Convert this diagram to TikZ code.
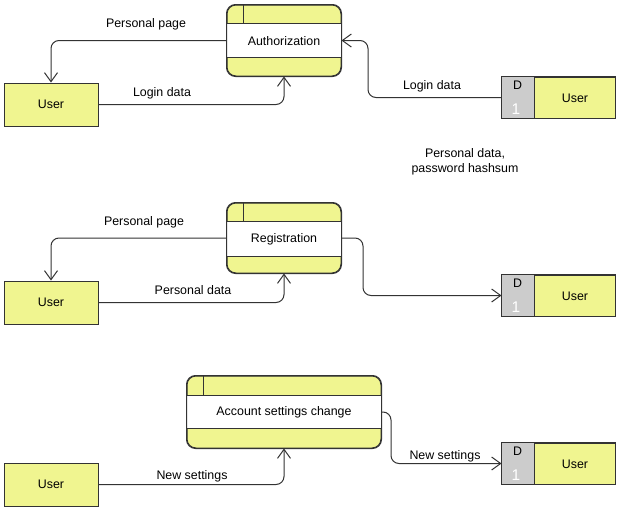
\documentclass[tikz,border=0pt]{standalone}
\usepackage{fontspec}
\setmainfont{Liberation Sans}
\usetikzlibrary{arrows.meta,calc}
\definecolor{ylw}{HTML}{F0F590}
\definecolor{gry}{HTML}{CCCCCC}
\definecolor{bdr}{HTML}{333333}
\begin{document}
\begin{tikzpicture}[x=1pt,y=-1pt,
  every node/.style={font=\fontsize{12.4}{15}\selectfont, text=black, inner sep=0pt},
  proc/.style={draw=bdr, line width=1pt, fill=ylw, rounded corners=9pt, rectangle},
  entity/.style={draw=bdr, line width=1pt, fill=ylw, rectangle, minimum width=94pt, minimum height=43pt},
  store/.style={draw=bdr, line width=1pt, fill=ylw, rectangle, minimum width=113pt, minimum height=41pt},
  flow/.style={draw=bdr, line width=1pt, rounded corners=8pt, -{Straight Barb[length=9pt,width=13pt]}},
  lbl/.style={align=center}]
\useasboundingbox (0,0) rectangle (622,509);

% ---------- processes ----------
\node[proc, minimum width=114pt, minimum height=71pt] (p1) at (284,40.5) {};
\node[proc, minimum width=114pt, minimum height=70pt] (p2) at (284,238) {};
\node[proc, minimum width=194pt, minimum height=72pt] (p3) at (284,412) {};
\foreach \p/\t/\b in {p1/19/19, p2/19/17, p3/20/20}{
  \fill[white] ($(\p.north west)+(0,\t)$) rectangle ($(\p.south east)+(0,-\b)$);
  \draw[bdr, line width=1pt] ($(\p.north west)+(0,\t)$) -- ($(\p.north east)+(0,\t)$);
  \draw[bdr, line width=1pt] ($(\p.south west)+(0,-\b)$) -- ($(\p.south east)+(0,-\b)$);
  \draw[bdr, line width=1pt] ($(\p.north west)+(16.5,0)$) -- ($(\p.north west)+(16.5,\t)$);
  \draw[bdr, line width=1pt, rounded corners=9pt] (\p.north west) rectangle (\p.south east);
}
\node at (284,41.5) {Authorization};
\node at (284,239.5) {Registration};
\node at (284,412.5) {Account settings change};

% ---------- entities ----------
\node[entity] (u1) at (51,104.5) {User};
\node[entity] (u2) at (51,302.5) {User};
\node[entity] (u3) at (51,484.5) {User};

% ---------- data stores ----------
\node[store] (d1) at (558.5,97.5) {};
\node[store] (d2) at (558.5,295.5) {};
\node[store] (d3) at (558.5,463.5) {};
\foreach \d in {d1,d2,d3}{
  \fill[gry] (\d.north west) rectangle ($(\d.south west)+(33,0)$);
  \draw[bdr, line width=1pt] (\d.north west) rectangle (\d.south east);
  \draw[bdr, line width=1pt] ($(\d.north west)+(33,0)$) -- ($(\d.south west)+(33,0)$);
  \node at ($(\d.north west)+(16,8.5)$) {D};
  \node[text=white, font=\fontsize{15.5}{17}\selectfont] at ($(\d.south west)+(14.5,-9.5)$) {1};
  \node at ($(\d.center)+(16.5,0.5)$) {User};
}

% ---------- bend coordinates ----------
\coordinate (b1) at (368,97.5);
\coordinate (b2) at (363,238);
\coordinate (b3) at (391,412);

% ---------- flows ----------
\draw[flow] (p1.west) -| (u1.north);
\draw[flow] (u1.east) -| (p1.south);
\draw[flow] (d1.west) -- (b1) |- (p1.east);
\draw[flow] (p2.west) -| (u2.north);
\draw[flow] (u2.east) -| (p2.south);
\draw[flow] (p2.east) -- (b2) |- (d2.west);
\draw[flow] (u3.east) -| (p3.south);
\draw[flow] (p3.east) -- (b3) |- (d3.west);

% ---------- labels ----------
\node[lbl] (l1) at (146,24.5) {Personal page};
\node[lbl] (l2) at (162,93.5) {Login data};
\node[lbl] (l3) at (432,86.5) {Login data};
\node[lbl] (l4) at (144,222.5) {Personal page};
\node[lbl] (l5) at (193,290.5) {Personal data};
\node[lbl] (l6) at (465,161.5) {Personal data,\\password hashsum};
\node[lbl] (l7) at (192,476.5) {New settings};
\node[lbl] (l8) at (445,456.5) {New settings};
\end{tikzpicture}
\end{document}
